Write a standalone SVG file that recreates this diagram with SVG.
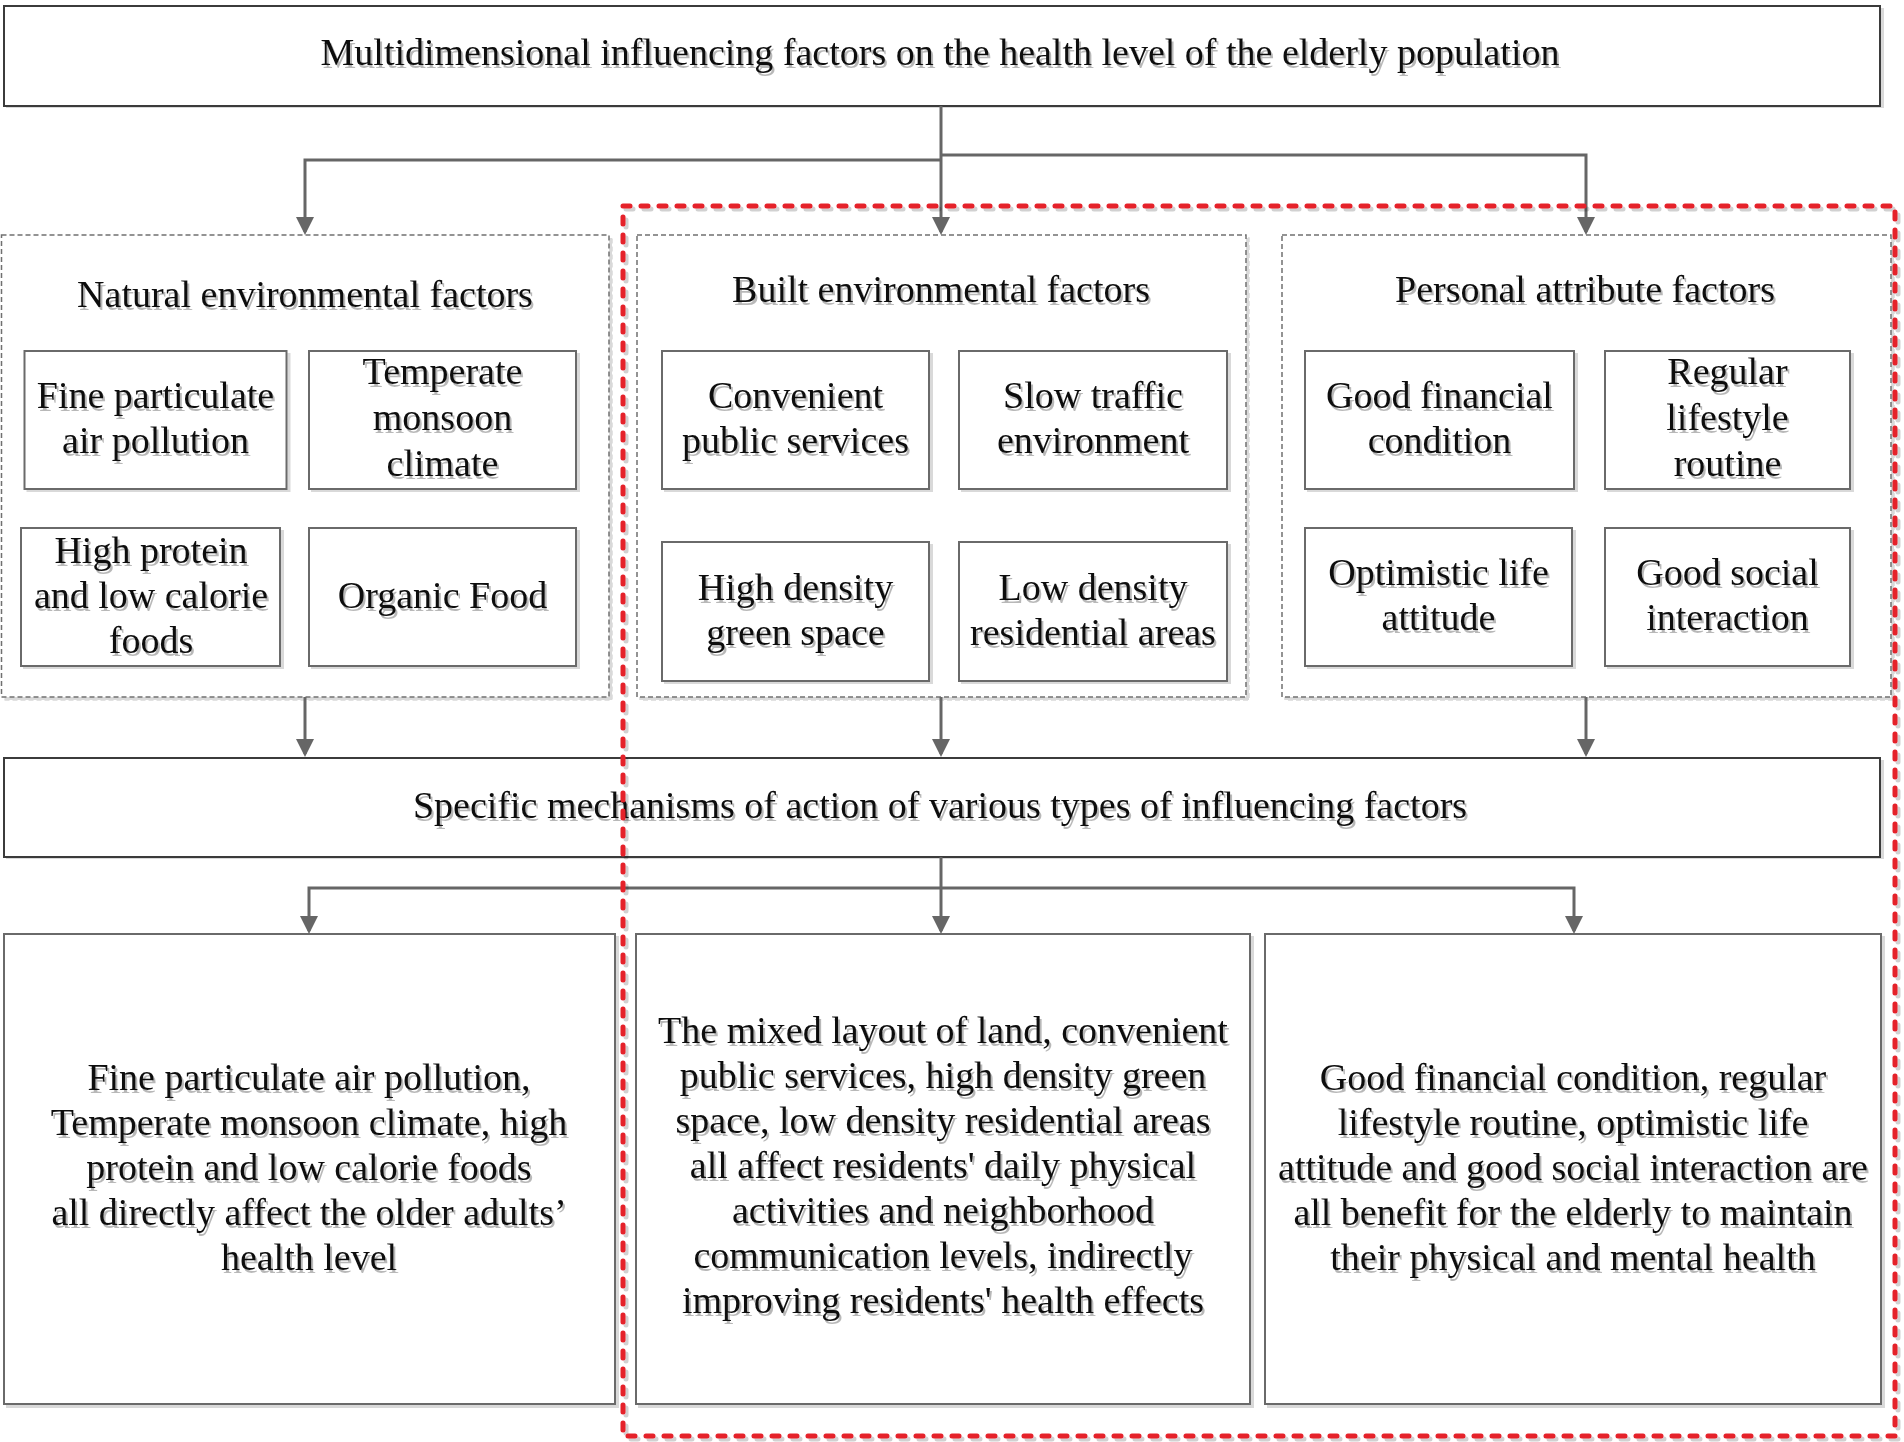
<svg xmlns="http://www.w3.org/2000/svg" width="1904" height="1442" viewBox="0 0 1904 1442">
<style>
text{font-family:"Liberation Serif","Times New Roman",serif;font-size:38px;fill:#111;text-anchor:middle;filter:url(#tsh)}
.box{fill:#fff;stroke:#6a6a6a;stroke-width:2;filter:url(#bsh)}
.main{fill:#fff;stroke:#3a3a3a;stroke-width:2;filter:url(#bsh)}
.grp{fill:#fff;stroke:#707070;stroke-width:1.5;stroke-dasharray:5 3;filter:url(#bsh)}
.con{fill:none;stroke:#666;stroke-width:3;marker-end:url(#arr)}
.red{fill:none;stroke:#e5202a;stroke-width:5;stroke-dasharray:7 11;stroke-linecap:round;filter:url(#rsh)}
</style>
<defs>
<filter id="tsh" x="-5%" y="-20%" width="110%" height="150%"><feDropShadow dx="2" dy="3" stdDeviation="0.7" flood-color="#000" flood-opacity="0.28"/></filter>
<filter id="bsh" x="-2%" y="-2%" width="104%" height="104%"><feDropShadow dx="3" dy="3" stdDeviation="0.6" flood-color="#000" flood-opacity="0.15"/></filter>
<filter id="rsh" x="-2%" y="-2%" width="104%" height="104%"><feDropShadow dx="3" dy="3" stdDeviation="0.6" flood-color="#000" flood-opacity="0.18"/></filter>
<marker id="arr" viewBox="0 0 18 18" refX="15" refY="9" markerWidth="18" markerHeight="18" markerUnits="userSpaceOnUse" orient="auto"><path d="M0,0 L18,9 L0,18 z" fill="#666"/></marker>
</defs>

<g id="title">
<rect class="main" x="4" y="6" width="1876" height="100"/>
<text x="940" y="65">Multidimensional influencing factors on the health level of the elderly population</text>
</g>

<g id="natural">
<rect class="grp" x="1.5" y="235" width="607.5" height="462"/>
<text x="305" y="307">Natural environmental factors</text>
<g id="n1"><rect class="box" x="24.5" y="351" width="262" height="138"/><text x="155.5" y="408">Fine particulate</text><text x="155.5" y="453">air pollution</text></g>
<g id="n2"><rect class="box" x="309" y="351" width="267" height="138"/><text x="442.5" y="384">Temperate</text><text x="442.5" y="430">monsoon</text><text x="442.5" y="476">climate</text></g>
<g id="n3"><rect class="box" x="21" y="528" width="259" height="138"/><text x="151" y="563">High protein</text><text x="151" y="608">and low calorie</text><text x="151" y="653">foods</text></g>
<g id="n4"><rect class="box" x="309" y="528" width="267" height="138"/><text x="442.5" y="608">Organic Food</text></g>
</g>

<g id="built">
<rect class="grp" x="637" y="235" width="609" height="462"/>
<text x="941" y="302">Built environmental factors</text>
<g id="b1"><rect class="box" x="662" y="351" width="267" height="138"/><text x="795.5" y="408">Convenient</text><text x="795.5" y="453">public services</text></g>
<g id="b2"><rect class="box" x="959" y="351" width="268" height="138"/><text x="1093" y="408">Slow traffic</text><text x="1093" y="453">environment</text></g>
<g id="b3"><rect class="box" x="662" y="542" width="267" height="139"/><text x="795.5" y="600">High density</text><text x="795.5" y="645">green space</text></g>
<g id="b4"><rect class="box" x="959" y="542" width="268" height="139"/><text x="1093" y="600">Low density</text><text x="1093" y="645">residential areas</text></g>
</g>

<g id="personal">
<rect class="grp" x="1282" y="235" width="609" height="462"/>
<text x="1585" y="302">Personal attribute factors</text>
<g id="p1"><rect class="box" x="1305" y="351" width="269" height="138"/><text x="1439.5" y="408">Good financial</text><text x="1439.5" y="453">condition</text></g>
<g id="p2"><rect class="box" x="1605" y="351" width="245" height="138"/><text x="1727.5" y="384">Regular</text><text x="1727.5" y="430">lifestyle</text><text x="1727.5" y="476">routine</text></g>
<g id="p3"><rect class="box" x="1305" y="528" width="267" height="138"/><text x="1438.5" y="585">Optimistic life</text><text x="1438.5" y="630">attitude</text></g>
<g id="p4"><rect class="box" x="1605" y="528" width="245" height="138"/><text x="1727.5" y="585">Good social</text><text x="1727.5" y="630">interaction</text></g>
</g>

<g id="mechanism">
<rect class="main" x="4" y="758" width="1876" height="99"/>
<text x="940" y="818">Specific mechanisms of action of various types of influencing factors</text>
</g>

<g id="effect-natural">
<rect class="box" x="4" y="934" width="611" height="470"/>
<text x="309" y="1090">Fine particulate air pollution,</text>
<text x="309" y="1135">Temperate monsoon climate, high</text>
<text x="309" y="1180">protein and low calorie foods</text>
<text x="309" y="1225">all directly affect the older adults’</text>
<text x="309" y="1270">health level</text>
</g>

<g id="effect-built">
<rect class="box" x="636" y="934" width="614" height="470"/>
<text x="943" y="1043">The mixed layout of land, convenient</text>
<text x="943" y="1088">public services, high density green</text>
<text x="943" y="1133">space, low density residential areas</text>
<text x="943" y="1178">all affect residents' daily physical</text>
<text x="943" y="1223">activities and neighborhood</text>
<text x="943" y="1268">communication levels, indirectly</text>
<text x="943" y="1313">improving residents' health effects</text>
</g>

<g id="effect-personal">
<rect class="box" x="1265" y="934" width="616" height="470"/>
<text x="1573" y="1090">Good financial condition, regular</text>
<text x="1573" y="1135">lifestyle routine, optimistic life</text>
<text x="1573" y="1180">attitude and good social interaction are</text>
<text x="1573" y="1225">all benefit for the elderly to maintain</text>
<text x="1573" y="1270">their physical and mental health</text>
</g>

<g id="connectors">
<path class="con" d="M941 106 V232"/>
<path class="con" d="M941 160 H305 V232"/>
<path class="con" d="M941 155 H1586 V232"/>
<path class="con" d="M305 697 V754"/>
<path class="con" d="M941 697 V754"/>
<path class="con" d="M1586 697 V754"/>
<path class="con" d="M941 857 V931"/>
<path class="con" d="M941 888 H309 V931"/>
<path class="con" d="M941 888 H1574 V931"/>
</g>

<g id="highlight">
<rect class="red" x="623" y="206" width="1272" height="1230"/>
</g>
</svg>
